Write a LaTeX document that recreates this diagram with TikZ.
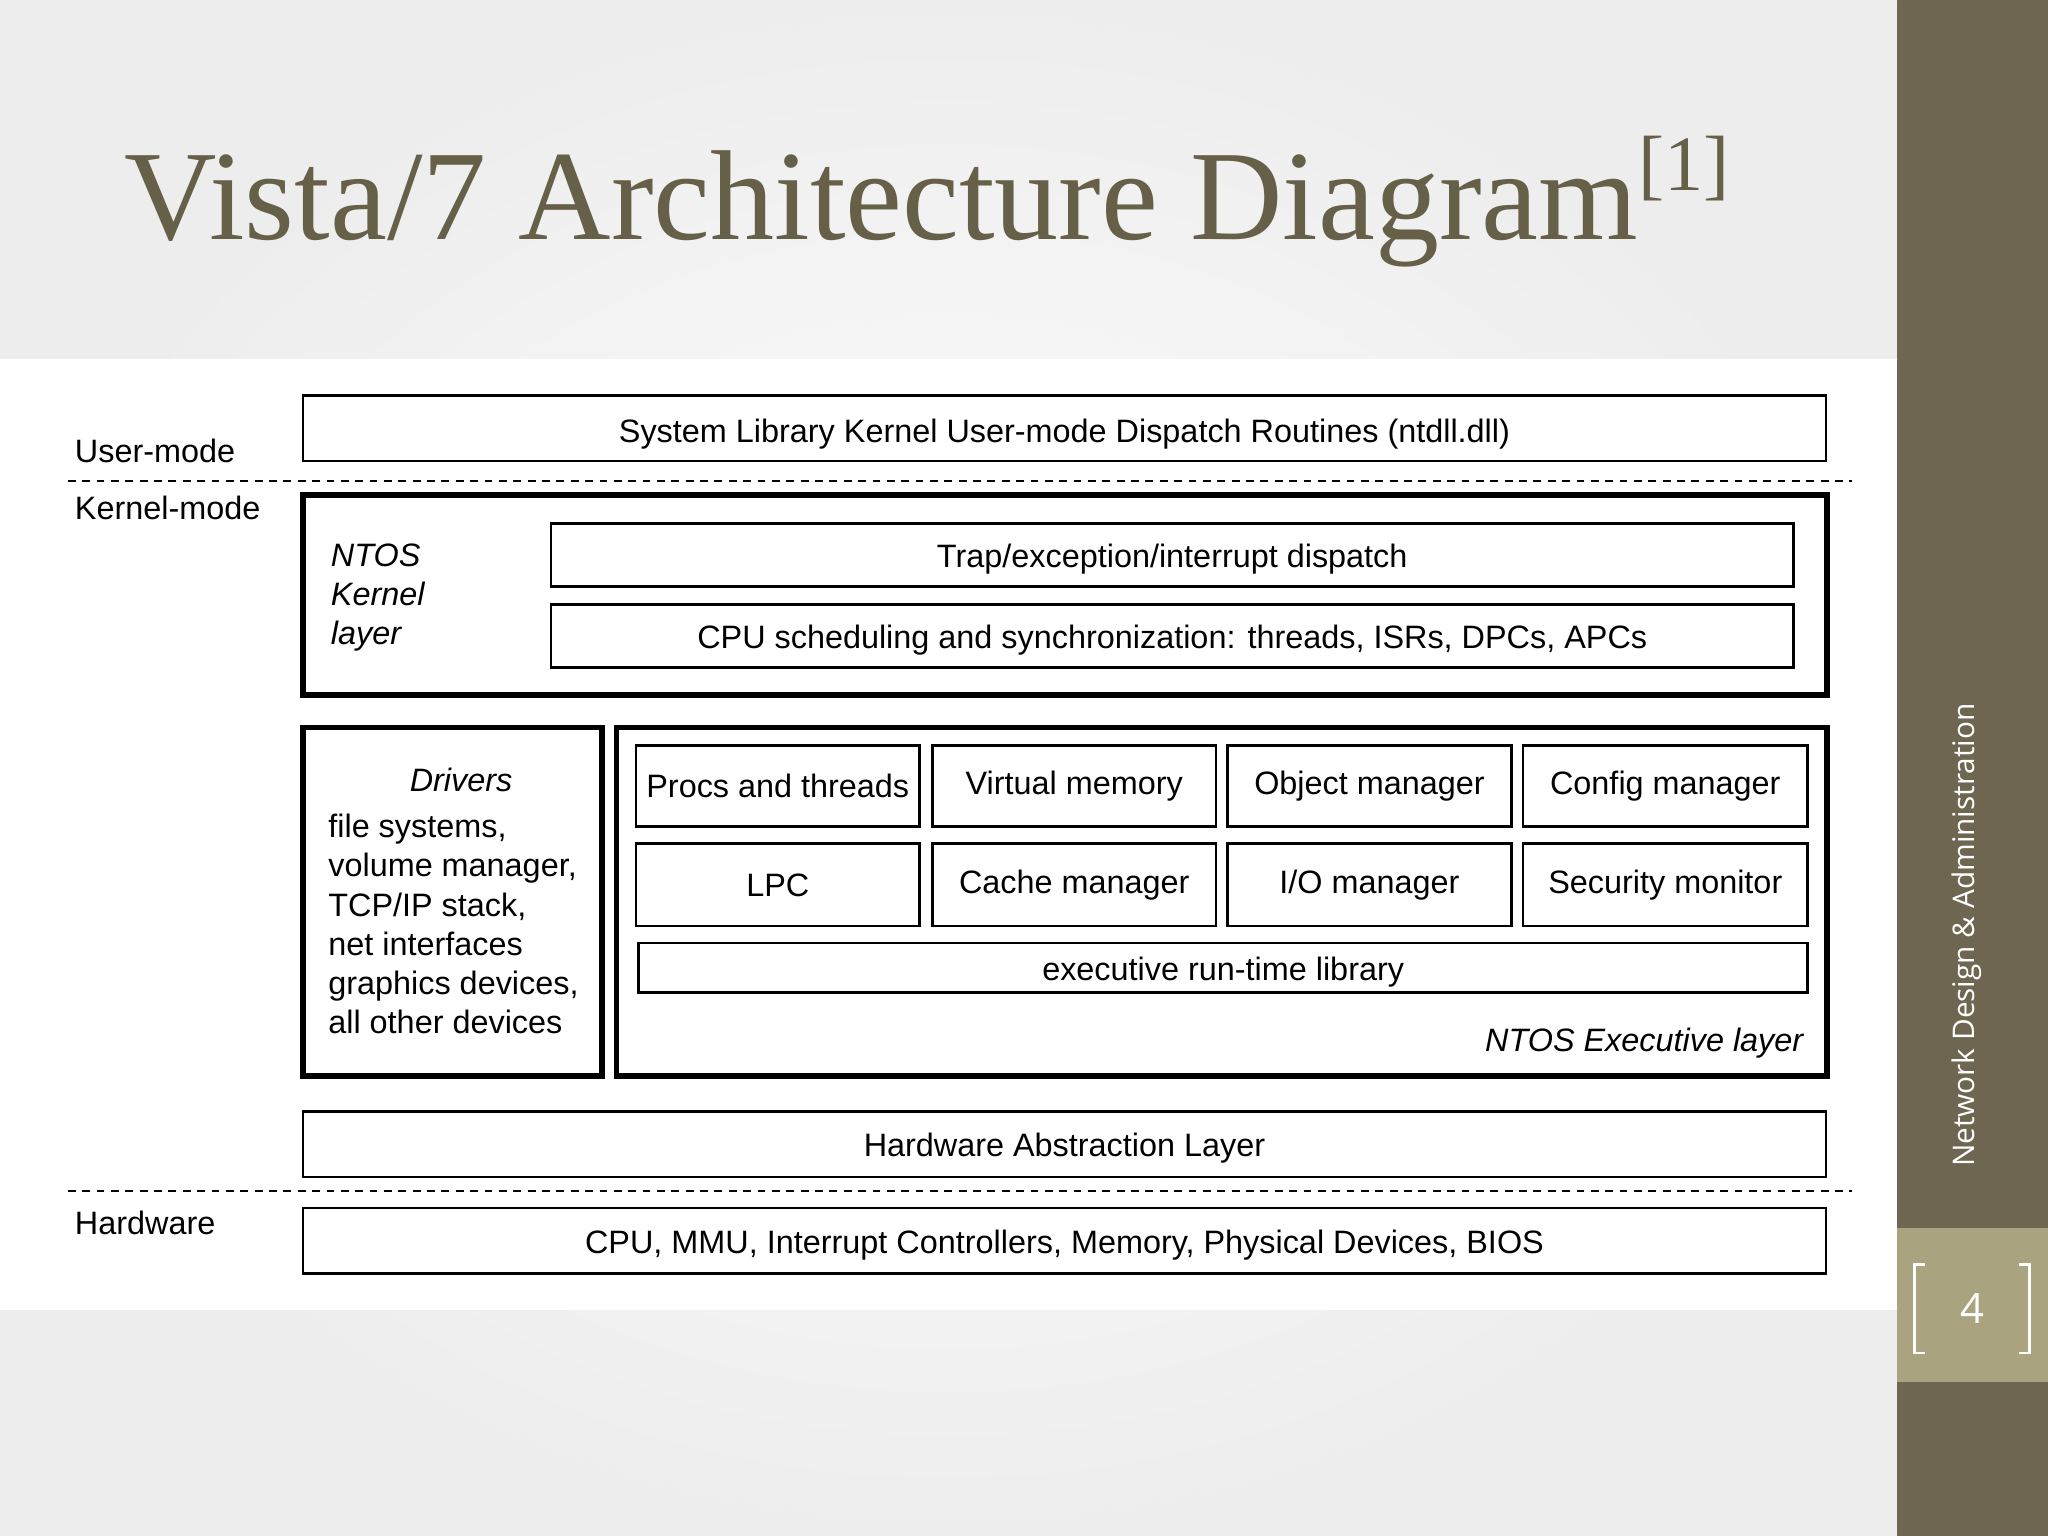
\documentclass[tikz,border=0pt]{standalone}
\usepackage{fontspec}
\setmainfont{Liberation Sans}
\newfontfamily\titlefont{Liberation Serif}
\newfontfamily\sidefont{Open Sans}
\definecolor{olive}{HTML}{6E6651}
\definecolor{oliveL}{HTML}{A9A47F}
\definecolor{titlec}{HTML}{676049}
\begin{document}
\begin{tikzpicture}[x=0.5pt,y=-0.5pt,
  thin box/.style={draw,line width=1pt,inner sep=0pt},
  thick box/.style={draw,line width=2.2pt},
  lbl/.style={font=\fontsize{12.4}{14}\selectfont,inner sep=0pt},
  dash line/.style={dashed,line width=0.8pt,dash pattern=on 3pt off 2.5pt}]
\useasboundingbox (0,0) rectangle (1568,1176);
\shade[inner color=white,outer color=black!7] (0,0) rectangle (1452,1176);
\fill[white] (0,275) rectangle (1452,1003);
\fill[olive] (1452,0) rectangle (1568,1176);
\fill[oliveL] (1452,940) rectangle (1568,1058);
\node[font=\titlefont\fontsize{49}{56}\selectfont,text=titlec,anchor=base west,inner sep=0pt] (title) at (95,183) {Vista/7 Architecture Diagram\raisebox{0.38em}{\fontsize{30}{32}\selectfont[1]}};
\node[font=\sidefont\fontsize{11.4}{13}\selectfont,text=white,rotate=90,anchor=base,inner sep=0pt] (side) at (1512,716) {Network Design \& Administration};
\node[font=\sidefont\fontsize{16}{18}\selectfont,text=white] (num) at (1510,1002) {4};
\draw[white,line width=1pt] (1474,968) -- (1466,968) -- (1466,1036) -- (1474,1036);
\draw[white,line width=1pt] (1546,968) -- (1554,968) -- (1554,1036) -- (1546,1036);
% labels
\node[lbl,anchor=base west] (um) at (57,354) {User-mode};
\node[lbl,anchor=base west] (km) at (57,398) {Kernel-mode};
\node[lbl,anchor=base west] (hw) at (57,945) {Hardware};
\coordinate (d1a) at (52,368); \coordinate (d1b) at (1418,368);
\coordinate (d2a) at (52,912); \coordinate (d2b) at (1418,912);
\draw[dash line] (d1a) -- (d1b);
\draw[dash line] (d2a) -- (d2b);
% boxes
\draw[thin box] (232,303) rectangle (1398,353) node[lbl,midway,yshift=-2pt] (ntdll) {System Library Kernel User-mode Dispatch Routines (ntdll.dll)};
\draw[thick box] (232,379) rectangle (1399,532);
\node[lbl,anchor=north west,align=left,font=\itshape\fontsize{12.4}{15}\selectfont] (ntk) at (253,416) {NTOS\\Kernel\\layer};
\draw[thin box] (422,401) rectangle (1373,449) node[lbl,midway,yshift=-1.5pt] (trap) {Trap/exception/interrupt dispatch};
\draw[thin box] (422,463) rectangle (1373,511) node[lbl,midway,yshift=-1.5pt] (sched) {CPU scheduling and synchronization: threads, ISRs, DPCs, APCs};
\draw[thick box] (232,557) rectangle (461,824);
\node[lbl,font=\itshape\fontsize{12.4}{14}\selectfont] (drv) at (353,597) {Drivers};
\node[lbl,anchor=north west,align=left,font=\fontsize{12.4}{15}\selectfont] (drvl) at (251,623) {file systems,\\volume manager,\\TCP/IP stack,\\net interfaces\\graphics devices,\\all other devices};
\draw[thick box] (472,557) rectangle (1399,824);
\draw[thin box] (487,571) rectangle (704,633) node[lbl,midway] (p1) {Procs and threads};
\draw[thin box] (714,571) rectangle (931,633) node[lbl,midway] (p2) {Virtual memory};
\draw[thin box] (940,571) rectangle (1157,633) node[lbl,midway] (p3) {Object manager};
\draw[thin box] (1166,571) rectangle (1384,633) node[lbl,midway] (p4) {Config manager};
\draw[thin box] (487,646) rectangle (704,709) node[lbl,midway] (q1) {LPC};
\draw[thin box] (714,646) rectangle (931,709) node[lbl,midway] (q2) {Cache manager};
\draw[thin box] (940,646) rectangle (1157,709) node[lbl,midway] (q3) {I/O manager};
\draw[thin box] (1166,646) rectangle (1384,709) node[lbl,midway] (q4) {Security monitor};
\draw[thin box] (489,722) rectangle (1384,760) node[lbl,midway,yshift=-1.5pt] (rtl) {executive run-time library};
\node[lbl,anchor=base east,font=\itshape\fontsize{12.4}{14}\selectfont] (ntex) at (1381,805) {NTOS Executive layer};
\draw[thin box] (232,851) rectangle (1398,901) node[lbl,midway,yshift=-1.5pt] (hal) {Hardware Abstraction Layer};
\draw[thin box] (232,925) rectangle (1398,975) node[lbl,midway,yshift=-1.5pt] (cpu) {CPU, MMU, Interrupt Controllers, Memory, Physical Devices, BIOS};
\end{tikzpicture}
\end{document}
